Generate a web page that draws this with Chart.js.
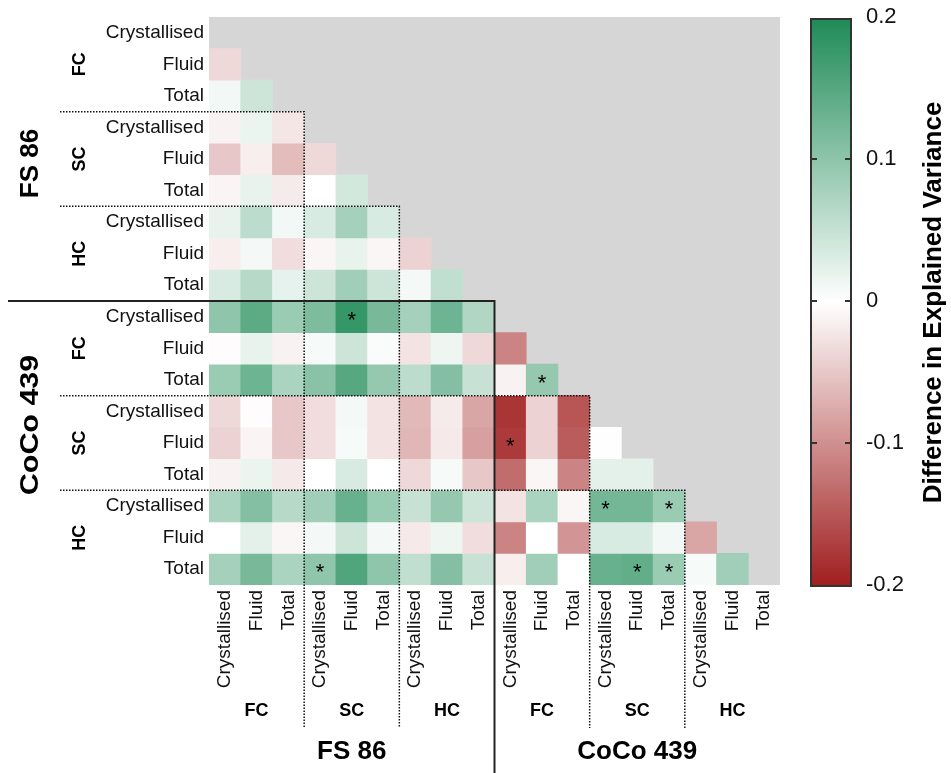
<!DOCTYPE html>
<html>
<head>
<meta charset="utf-8">
<style>
  html, body { margin: 0; padding: 0; background: #fff; }
  #wrap { width: 951px; height: 773px; }
</style>
<script src="https://cdn.jsdelivr.net/npm/chart.js@4.4.1/dist/chart.umd.min.js"></script>
</head>
<body>
<div id="wrap"><canvas id="heatChart"></canvas></div>
<script>
// labels
const measures = ["Crystallised", "Fluid", "Total"];
const cycles = ["FC", "SC", "HC"];
const sites = ["FS 86", "CoCo 439"];
const cellLabels = [];
sites.forEach(s => cycles.forEach(c => measures.forEach(m => cellLabels.push(m))));

// difference in explained variance, lower triangle (row r has r values)
const diffRows = [
    [],
    [-0.035],
    [0.012, 0.045],
    [-0.012, 0.018, -0.022],
    [-0.05, -0.015, -0.06, -0.035],
    [-0.01, 0.02, -0.018, 0.0, 0.04],
    [0.02, 0.06, 0.012, 0.035, 0.08, 0.035],
    [-0.015, 0.01, -0.03, -0.008, 0.02, -0.008, -0.04],
    [0.035, 0.065, 0.022, 0.045, 0.085, 0.045, 0.01, 0.055],
    [0.1, 0.145, 0.09, 0.115, 0.18, 0.12, 0.08, 0.13, 0.07],
    [-0.003, 0.02, -0.012, 0.008, 0.045, 0.005, -0.025, 0.015, -0.035, -0.11],
    [0.09, 0.13, 0.075, 0.105, 0.15, 0.095, 0.06, 0.11, 0.05, -0.012, 0.095],
    [-0.035, -0.003, -0.05, -0.03, 0.01, -0.025, -0.062, -0.018, -0.08, -0.18, -0.04, -0.15],
    [-0.04, -0.01, -0.05, -0.03, 0.008, -0.025, -0.065, -0.02, -0.085, -0.175, -0.04, -0.145, 0.002],
    [-0.012, 0.018, -0.02, 0.0, 0.035, 0.0, -0.035, 0.008, -0.05, -0.13, -0.008, -0.11, 0.025, 0.025],
    [0.075, 0.11, 0.065, 0.085, 0.135, 0.09, 0.05, 0.095, 0.045, -0.025, 0.075, -0.008, 0.125, 0.125, 0.09],
    [0.0, 0.025, -0.008, 0.01, 0.045, 0.01, -0.02, 0.015, -0.03, -0.11, 0.0, -0.095, 0.035, 0.035, 0.012, -0.08],
    [0.08, 0.12, 0.075, 0.1, 0.155, 0.1, 0.055, 0.11, 0.05, -0.015, 0.085, 0.0, 0.135, 0.14, 0.09, 0.008, 0.085]
];

// significant cells [row, col]
const starCells = [[9, 4], [11, 10], [13, 9], [15, 12], [15, 14], [17, 3], [17, 13], [17, 14]];

const scaleMin = -0.2, scaleMax = 0.2;
const colourbarTicks = [-0.2, -0.1, 0, 0.1, 0.2];

const greenEnd = [31, 139, 87];
const redEnd = [160, 30, 30];

function cellColour(v) {
    const t = Math.min(Math.abs(v) / scaleMax, 1);
    const e = v >= 0 ? greenEnd : redEnd;
    const c = e.map(x => Math.round(255 + (x - 255) * t));
    return "rgb(" + c.join(",") + ")";
}

const n = cellLabels.length;
const datasets = [];
for (let r = 1; r < n; r++) {
    datasets.push({
        label: "row " + r,
        data: cellLabels.map((_, c) => c < r ? [r, r + 1] : null),
        backgroundColor: cellLabels.map((_, c) => c < r ? cellColour(diffRows[r][c]) : "rgba(0,0,0,0)"),
        borderWidth: 0,
        barPercentage: 1,
        categoryPercentage: 1,
        grouped: false,
        yAxisID: "y"
    });
}

Chart.defaults.font.family = "'Liberation Sans', Arial, sans-serif";
Chart.defaults.color = "#111";

// left site labels sit a little off the block centre in the original
const siteLabelShift = [4.5, -18];
const siteLabelStretch = [1, 1.17];

// grey background, stars, group lines and colour bar
const decorations = {
    id: "decorations",
    beforeDatasetsDraw(chart) {
        const a = chart.chartArea, ctx = chart.ctx;
        ctx.save();
        ctx.fillStyle = "#d6d6d6";
        ctx.fillRect(a.left, a.top, a.right - a.left, a.bottom - a.top);
        ctx.restore();
    },
    afterDatasetsDraw(chart) {
        const ctx = chart.ctx, x = chart.scales.x, y = chart.scales.y;
        ctx.save();
        ctx.fillStyle = "#000";
        ctx.font = "22px 'Liberation Sans', Arial, sans-serif";
        ctx.textAlign = "center";
        ctx.textBaseline = "middle";
        starCells.forEach(([r, c]) => {
            ctx.fillText("*", x.getPixelForValue(c), y.getPixelForValue(r + 0.5) + 4);
        });
        ctx.restore();
    },
    afterDraw(chart) {
        const ctx = chart.ctx, x = chart.scales.x, y = chart.scales.y, cb = chart.scales.cb;
        const cw = (x.right - x.left) / n;
        const colEdge = c => x.left + c * cw;
        const rowEdge = r => y.getPixelForValue(r);
        ctx.save();

        // dotted group separators
        ctx.strokeStyle = "#111";
        ctx.lineWidth = 1.5;
        ctx.setLineDash([1.5, 1.5]);
        [3, 6, 12, 15].forEach(b => {
            ctx.beginPath();
            ctx.moveTo(60, rowEdge(b));
            ctx.lineTo(colEdge(b), rowEdge(b));
            ctx.lineTo(colEdge(b), 728);
            ctx.stroke();
        });
        // solid site separator
        ctx.setLineDash([]);
        ctx.lineWidth = 2;
        ctx.strokeStyle = "#222";
        ctx.beginPath();
        ctx.moveTo(8, rowEdge(9));
        ctx.lineTo(colEdge(9), rowEdge(9));
        ctx.lineTo(colEdge(9), chart.height);
        ctx.stroke();

        // group and site labels
        ctx.fillStyle = "#000";
        ctx.textAlign = "center";
        ctx.textBaseline = "middle";
        for (let s = 0; s < sites.length; s++) {
            for (let g = 0; g < cycles.length; g++) {
                const k = s * 9 + g * 3 + 1.5;
                ctx.font = "bold 18px 'Liberation Sans', Arial, sans-serif";
                ctx.save();
                ctx.translate(80, y.getPixelForValue(k));
                ctx.rotate(-Math.PI / 2);
                ctx.fillText(cycles[g], 0, 0);
                ctx.restore();
                ctx.fillText(cycles[g], x.left + k * cw, 711);
            }
            const m = s * 9 + 4.5;
            ctx.font = "bold 26px 'Liberation Sans', Arial, sans-serif";
            ctx.save();
            ctx.translate(31, y.getPixelForValue(m) + siteLabelShift[s]);
            ctx.rotate(-Math.PI / 2);
            ctx.scale(siteLabelStretch[s], 1);
            ctx.fillText(sites[s], 0, 0);
            ctx.restore();
            ctx.fillText(sites[s], x.left + m * cw, 752);
        }

        // colour bar
        const bx = cb.left + 31, bw = 40;
        const top = cb.getPixelForValue(scaleMax) + 2, bottom = cb.getPixelForValue(scaleMin) + 1;
        const grad = ctx.createLinearGradient(0, top, 0, bottom);
        grad.addColorStop(0, cellColour(scaleMax));
        grad.addColorStop(0.5, cellColour(0));
        grad.addColorStop(1, cellColour(scaleMin));
        ctx.fillStyle = grad;
        ctx.fillRect(bx, top, bw, bottom - top);
        ctx.strokeStyle = "#333";
        ctx.lineWidth = 2;
        ctx.strokeRect(bx, top, bw, bottom - top);
        colourbarTicks.slice(1, -1).forEach(t => {
            const py = cb.getPixelForValue(t);
            ctx.beginPath();
            ctx.moveTo(bx, py); ctx.lineTo(bx + 6, py);
            ctx.moveTo(bx + bw - 6, py); ctx.lineTo(bx + bw, py);
            ctx.stroke();
        });
        ctx.fillStyle = "#000";
        ctx.font = "bold 26px 'Liberation Sans', Arial, sans-serif";
        ctx.translate(934, (top + bottom) / 2);
        ctx.rotate(-Math.PI / 2);
        ctx.fillText("Difference in Explained Variance", 0, 0);
        ctx.restore();
    }
};

const ctx = document.getElementById("heatChart").getContext("2d");
const chart = new Chart(ctx, {
    type: "bar",
    data: { labels: cellLabels, datasets: datasets },
    plugins: [decorations],
    options: {
        responsive: true,
        maintainAspectRatio: false,
        animation: false,
        layout: { padding: { top: 17, left: 0, right: 0, bottom: 0 } },
        plugins: { legend: { display: false }, tooltip: { enabled: false } },
        scales: {
            x: {
                type: "category",
                offset: true,
                grid: { display: false, drawTicks: false },
                border: { display: false },
                ticks: {
                    autoSkip: false,
                    minRotation: 90,
                    maxRotation: 90,
                    padding: 5,
                    color: "#111",
                    font: { size: 19 }
                },
                afterFit: axis => { axis.height = 188; }
            },
            y: {
                type: "linear",
                display: false,
                reverse: true,
                min: 0,
                max: n
            },
            rows: {
                type: "category",
                position: "left",
                labels: cellLabels,
                offset: true,
                grid: { display: false, drawTicks: false },
                border: { display: false },
                ticks: { autoSkip: false, padding: 5, color: "#111", font: { size: 19 } },
                afterFit: axis => { axis.width = 209; }
            },
            cb: {
                type: "linear",
                position: "right",
                min: scaleMin,
                max: scaleMax,
                grid: { display: false, drawTicks: true, tickLength: 86 },
                border: { display: false },
                afterBuildTicks: axis => { axis.ticks = colourbarTicks.map(v => ({ value: v })); },
                ticks: {
                    padding: 0,
                    color: "#111",
                    font: { size: 22 },
                    callback: v => String(Math.round(v * 10) / 10)
                },
                afterFit: axis => { axis.width = 171; }
            }
        }
    }
});
</script>
</body>
</html>
